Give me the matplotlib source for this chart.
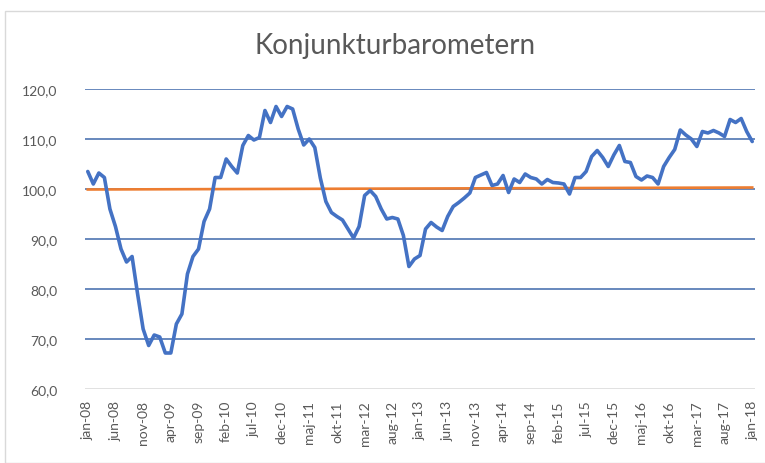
import matplotlib.pyplot as plt
from matplotlib.patches import Rectangle

# Konjunkturbarometern, monthly jan-08 .. jan-18
index_values = [
    103.5, 101.0, 103.2, 102.3, 96.0, 92.5, 88.0, 85.4, 86.5, 79.0,
    72.0, 68.7, 70.8, 70.4, 67.2, 67.2, 73.0, 75.0, 83.0, 86.5,
    88.0, 93.5, 96.0, 102.3, 102.3, 106.0, 104.5, 103.2, 108.7, 110.7,
    109.8, 110.3, 115.7, 113.3, 116.5, 114.5, 116.5, 116.0, 112.0, 108.8,
    110.0, 108.3, 102.2, 97.5, 95.3, 94.5, 93.8, 92.0, 90.2, 92.5,
    98.7, 99.7, 98.5, 96.0, 94.0, 94.3, 94.0, 90.7, 84.5, 86.0,
    86.7, 92.0, 93.3, 92.4, 91.7, 94.5, 96.5, 97.3, 98.2, 99.2,
    102.3, 102.8, 103.3, 100.7, 101.0, 102.7, 99.3, 102.0, 101.3, 103.0,
    102.3, 102.0, 101.0, 101.9, 101.3, 101.2, 101.0, 99.0, 102.3, 102.3,
    103.5, 106.5, 107.7, 106.3, 104.5, 106.8, 108.7, 105.5, 105.3, 102.5,
    101.8, 102.6, 102.3, 101.0, 104.5, 106.3, 107.9, 111.8, 110.8, 110.0,
    108.5, 111.5, 111.2, 111.7, 111.2, 110.5, 113.9, 113.3, 114.1, 111.5,
    109.5,
]
# straight orange reference line, start and end value
ref_values = [99.9, 100.3]

tick_labels = ["jan-08", "jun-08", "nov-08", "apr-09", "sep-09", "feb-10",
               "jul-10", "dec-10", "maj-11", "okt-11", "mar-12", "aug-12",
               "jan-13", "jun-13", "nov-13", "apr-14", "sep-14", "feb-15",
               "jul-15", "dec-15", "maj-16", "okt-16", "mar-17", "aug-17",
               "jan-18"]
y_ticks = [60, 70, 80, 90, 100, 110, 120]

W, H = 765, 464
fig = plt.figure(figsize=(W / 100, H / 100), dpi=100)
fig.patch.set_facecolor("white")

# chart area border
fig.add_artist(Rectangle((5 / W, 0), 1, 1 - 12 / H, transform=fig.transFigure,
                         fill=False, edgecolor="#d9d9d9", lw=1))

ax = fig.add_axes([85 / W, 1 - 390 / H, 670 / W, 300 / H])
n = len(index_values)
x = list(range(n))

for yv in y_ticks[1:]:
    ax.axhline(yv, color="#3f68ab", lw=1.1, zorder=1)
ax.axhline(60, color="#d9d9d9", lw=1.1, zorder=1)

ax.plot(x, index_values, color="#4472c4", lw=2.6, solid_joinstyle="round",
        solid_capstyle="round", zorder=3)
ax.plot([0, n - 1], ref_values, color="#ed7d31", lw=1.9, zorder=2)

ax.set_xlim(-0.5, n - 0.5)
ax.set_ylim(60, 120)
ax.set_yticks(y_ticks)
ax.set_yticklabels([f"{v},0" for v in y_ticks])
ax.set_xticks(list(range(0, n, 5)))
ax.set_xticklabels(tick_labels, rotation=90)

ax.tick_params(length=0, labelsize=10, labelcolor="#595959")
ax.tick_params(axis="y", pad=20)
ax.tick_params(axis="x", pad=8)
for lab in ax.get_xticklabels() + ax.get_yticklabels():
    lab.set_family("Lato")
for s in ax.spines.values():
    s.set_visible(False)

fig.text(395 / W, 1 - 46 / H, "Konjunkturbarometern", ha="center", va="center",
         fontsize=20, color="#595959", family="Lato")

fig.savefig("out.png", dpi=100, facecolor="white")
